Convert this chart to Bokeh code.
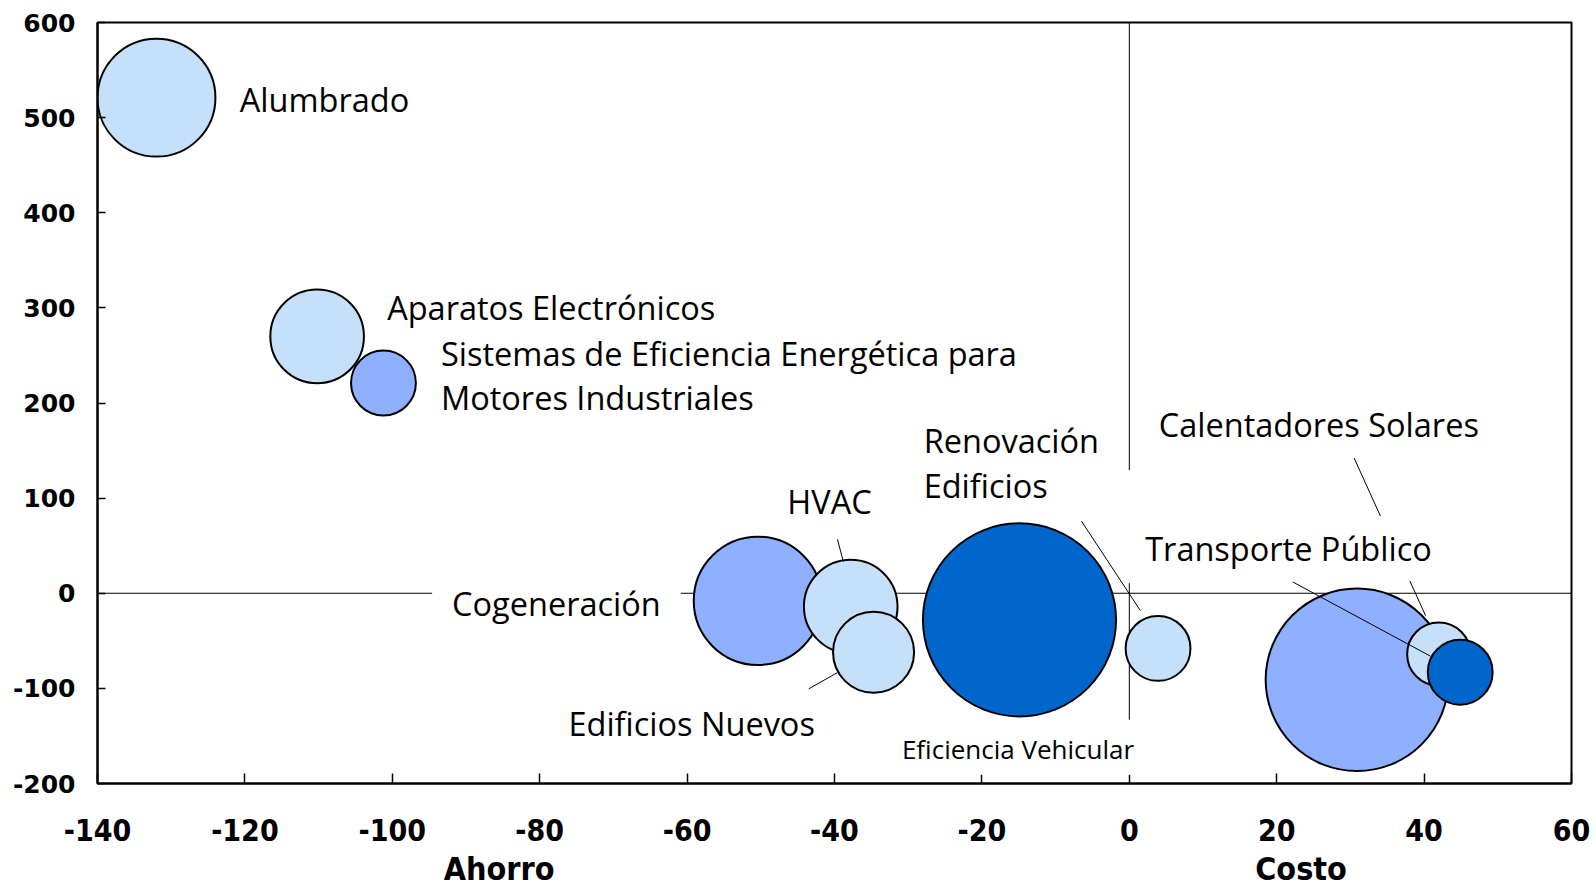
from bokeh.plotting import figure
from bokeh.models import Range1d, Label, Span, FixedTicker, ColumnDataSource, LinearAxis
from bokeh.embed import file_html
from bokeh.resources import INLINE

# ---- data ----
nombres = ["Alumbrado", "Aparatos Electrónicos",
           "Sistemas de Eficiencia Energética para Motores Industriales",
           "Cogeneración", "HVAC", "Edificios Nuevos", "Eficiencia Vehicular",
           "Renovación Edificios", "(sin etiqueta)", "Calentadores Solares",
           "Transporte Público"]
costo = [-132.0, -110.2, -101.2, -50.4, -37.8, -34.7, -14.9, 3.9, 30.9, 42.0, 44.9]
potencial = [521, 270, 221, -8, -14, -62, -28, -58, -91, -64, -83]
magnitud = [8.0, 6.35, 4.4, 8.7, 6.35, 5.5, 13.1, 4.4, 12.4, 4.3, 4.4]
grupo = ["claro", "claro", "medio", "medio", "claro", "claro", "oscuro",
         "claro", "medio", "claro", "oscuro"]
x_ticks = [-140, -120, -100, -80, -60, -40, -20, 0, 20, 40, 60]
y_ticks = [-200, -100, 0, 100, 200, 300, 400, 500, 600]
x_captions = {-85.5: "Ahorro", 23.3: "Costo"}

# ---- style ----
colores = {"claro": "#C6E0FA", "medio": "#8FAFFF", "oscuro": "#0066CC"}
LABEL_FONT = "Open Sans"
LABEL_SIZE = "32.5px"
COND_FONT = "DejaVu Sans Condensed"

p = figure(width=1596, height=890, output_backend="svg", toolbar_location=None,
           x_range=Range1d(-140, 60), y_range=Range1d(-200, 600),
           min_border_left=97, min_border_right=25, min_border_top=22,
           min_border_bottom=107)
p.xgrid.visible = False
p.ygrid.visible = False
p.outline_line_color = "black"
p.outline_line_width = 2
p.background_fill_color = "white"
p.border_fill_color = "white"

for ax in (p.xaxis[0], p.yaxis[0]):
    ax.axis_line_color = "black"
    ax.axis_line_width = 2
    ax.major_tick_line_color = "black"
    ax.major_tick_line_width = 1.5
    ax.minor_tick_line_color = None
    ax.major_tick_out = 0
    ax.major_label_text_color = "black"
    ax.major_label_text_font_style = "bold"

p.xaxis.ticker = FixedTicker(ticks=x_ticks)
p.yaxis.ticker = FixedTicker(ticks=y_ticks)
p.xaxis.major_label_overrides = {t: str(t) for t in x_ticks}
p.yaxis.major_label_overrides = {t: str(t) for t in y_ticks}
p.xaxis.major_tick_in = 10
p.yaxis.major_tick_in = 8
p.xaxis.major_label_text_font = COND_FONT
p.xaxis.major_label_text_font_size = "30px"
p.xaxis.major_label_standoff = 35
p.yaxis.major_label_text_font = "DejaVu Sans"
p.yaxis.major_label_text_font_size = "25px"
p.yaxis.major_label_standoff = 22

# captions "Ahorro" / "Costo" as a second bottom axis
cap = LinearAxis(ticker=FixedTicker(ticks=list(x_captions.keys())),
                 major_label_overrides=x_captions,
                 axis_line_color=None, major_tick_line_color=None,
                 minor_tick_line_color=None, major_label_standoff=0,
                 major_label_text_font=COND_FONT,
                 major_label_text_font_size="32px",
                 major_label_text_font_style="bold",
                 major_label_text_color="black")
p.add_layout(cap, "below")

# zero reference lines
p.add_layout(Span(location=0, dimension="width", line_color="black",
                  line_width=1, level="underlay"))
p.segment(x0=[0, 0], y0=[600, 10.7], x1=[0, 0], y1=[129.4, -133],
          line_color="black", line_width=1)

src = ColumnDataSource(dict(x=costo, y=potencial, r=magnitud,
                            c=[colores[g] for g in grupo]))
p.circle("x", "y", radius="r", radius_dimension="x", source=src,
         fill_color="c", line_color="black", line_width=2)

# leader lines (label -> bubble)
lead_x0 = [-39.6, -43.5, -6.5, 30.5, 22.2]
lead_y0 = [56.7, -100.5, 75.9, 142.2, 11.8]
lead_x1 = [-38.8, -39.6, 1.5, 40.2, 40.9]
lead_y1 = [33.2, -83.4, -18.2, -23.5, -66.3]
p.segment(x0=lead_x0, y0=lead_y0, x1=lead_x1, y1=lead_y1,
          line_color="black", line_width=1)


def lab(text, x, y, align="left", size=LABEL_SIZE, bg=None, pad=0):
    kw = {}
    if bg:
        kw = dict(background_fill_color=bg, padding=pad)
    p.add_layout(Label(x=x, y=y, text=text, text_align=align,
                       text_baseline="middle", text_font=LABEL_FONT,
                       text_font_size=size, text_color="black", **kw))


lab("Alumbrado", -120.7, 518.7)
lab("Aparatos Electrónicos", -100.7, 300.5)
lab("Sistemas de Eficiencia Energética para", -93.4, 252.4)
lab("Motores Industriales", -93.4, 205.3)
lab("Cogeneración", -94.6, -10.7, bg="white", pad=20)
lab("HVAC", -46.4, 96.3)
lab("Edificios Nuevos", -76.1, -136.9)
lab("Renovación", -27.9, 160.4)
lab("Edificios", -27.9, 113.4)
lab("Eficiencia Vehicular", -15.1, -163.6, align="center", size="26px",
    bg="white", pad=8)
lab("Calentadores Solares", 4.0, 177.5)
lab("Transporte Público", 0.8, 47.1, bg="white", pad=10)

open("out.html", "w").write(file_html(p, INLINE))
